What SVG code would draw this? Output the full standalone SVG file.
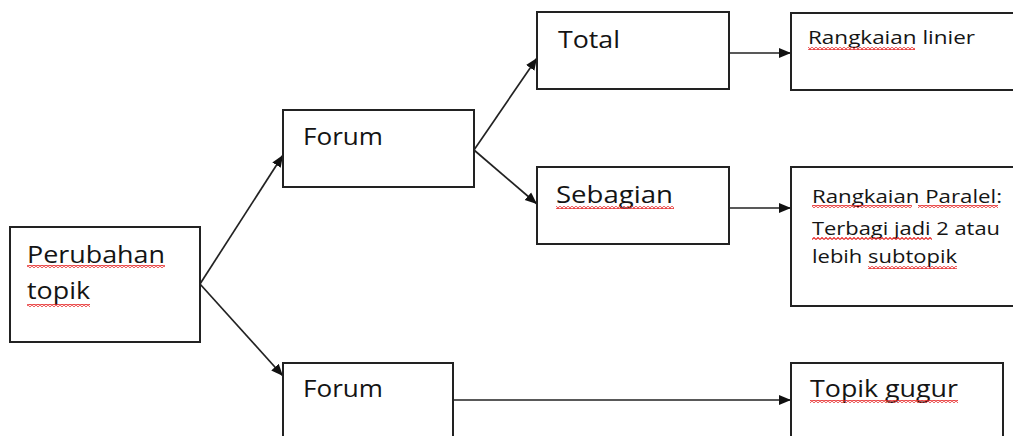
<svg xmlns="http://www.w3.org/2000/svg" width="1013" height="436" viewBox="0 0 1013 436">
<style>
.box{fill:#fff;stroke:#222;stroke-width:2}
.lg{font-family:"Open Sans","Liberation Sans",sans-serif;font-size:24px;fill:#141414}
.sm{font-family:"Open Sans","Liberation Sans",sans-serif;font-size:19px;fill:#141414}
.ln{stroke:#222;stroke-width:1.7;fill:none}
.sq{fill:url(#sq)}
</style>
<defs>
<marker id="ah" markerUnits="userSpaceOnUse" markerWidth="14" markerHeight="12" refX="12" refY="6" orient="auto">
<path d="M0,1 L12,6 L0,11 Z" fill="#111"/>
</marker>
<pattern id="sq" patternUnits="userSpaceOnUse" width="4" height="3">
<polyline points="0,2.5 2,0.5 4,2.5" fill="none" stroke="#e62a2a" stroke-width="1.1"/>
</pattern>
</defs>
<rect width="1013" height="436" fill="#fff"/>
<g id="connectors">
<line class="ln" x1="200" y1="284" x2="283" y2="155" marker-end="url(#ah)"/>
<line class="ln" x1="200" y1="284" x2="283" y2="376" marker-end="url(#ah)"/>
<line class="ln" x1="474" y1="150" x2="537" y2="58" marker-end="url(#ah)"/>
<line class="ln" x1="474" y1="150" x2="537" y2="204" marker-end="url(#ah)"/>
<line class="ln" x1="729" y1="53" x2="791" y2="53" marker-end="url(#ah)"/>
<line class="ln" x1="729" y1="208" x2="791" y2="208" marker-end="url(#ah)"/>
<line class="ln" x1="453" y1="400" x2="791" y2="400" marker-end="url(#ah)"/>
</g>
<g id="perubahan">
<rect class="box" x="10" y="227" width="190" height="115"/>
<text class="lg" x="27" y="263" textLength="138" lengthAdjust="spacingAndGlyphs">Perubahan</text>
<text class="lg" x="27" y="299" textLength="63" lengthAdjust="spacingAndGlyphs">topik</text>
<rect class="sq" x="27" y="265" width="138" height="3"/>
<rect class="sq" x="27" y="304" width="63" height="3"/>
</g>
<g id="forum1">
<rect class="box" x="283" y="110" width="191" height="77"/>
<text class="lg" x="303" y="145" textLength="80" lengthAdjust="spacingAndGlyphs">Forum</text>
</g>
<g id="total">
<rect class="box" x="537" y="12" width="192" height="77"/>
<text class="lg" x="558" y="48" textLength="62" lengthAdjust="spacingAndGlyphs">Total</text>
</g>
<g id="sebagian">
<rect class="box" x="537" y="167" width="192" height="77"/>
<text class="lg" x="556" y="203" textLength="117" lengthAdjust="spacingAndGlyphs">Sebagian</text>
<rect class="sq" x="556" y="206" width="118" height="3"/>
</g>
<g id="linier">
<rect class="box" x="791" y="13" width="240" height="77"/>
<text class="sm" x="808" y="44" textLength="167" lengthAdjust="spacingAndGlyphs">Rangkaian linier</text>
<rect class="sq" x="808" y="47" width="107" height="3"/>
</g>
<g id="paralel">
<rect class="box" x="791" y="167" width="240" height="139"/>
<text class="sm" x="812" y="203" textLength="190" lengthAdjust="spacingAndGlyphs">Rangkaian Paralel:</text>
<text class="sm" x="812" y="235" textLength="188" lengthAdjust="spacingAndGlyphs">Terbagi jadi 2 atau</text>
<text class="sm" x="812" y="263" textLength="145" lengthAdjust="spacingAndGlyphs">lebih subtopik</text>
<rect class="sq" x="812" y="205" width="100" height="3"/>
<rect class="sq" x="918" y="205" width="80" height="3"/>
<rect class="sq" x="812" y="237" width="120" height="3"/>
<rect class="sq" x="868" y="266" width="89" height="3"/>
</g>
<g id="forum2">
<rect class="box" x="283" y="363" width="170" height="90"/>
<text class="lg" x="303" y="397" textLength="80" lengthAdjust="spacingAndGlyphs">Forum</text>
</g>
<g id="gugur">
<rect class="box" x="791" y="363" width="212" height="90"/>
<text class="lg" x="810" y="397" textLength="148" lengthAdjust="spacingAndGlyphs">Topik gugur</text>
<rect class="sq" x="810" y="400" width="148" height="3"/>
</g>
</svg>
